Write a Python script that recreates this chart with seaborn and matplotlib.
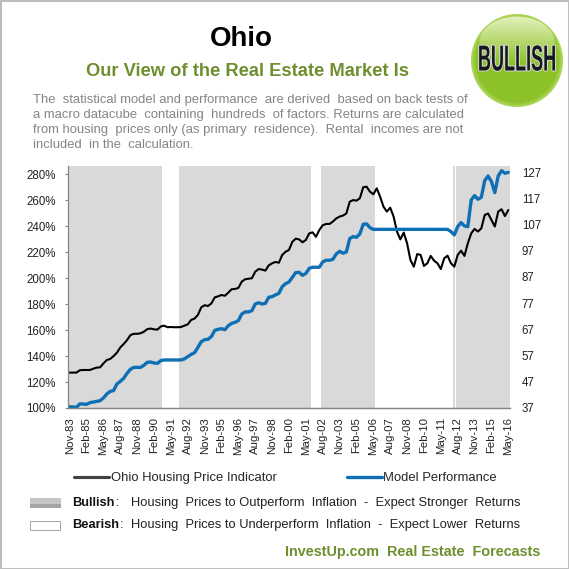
import matplotlib
matplotlib.use("Agg")
import matplotlib.pyplot as plt
import matplotlib.patheffects as pe
from matplotlib.patches import Rectangle, Circle
from matplotlib.transforms import Affine2D
import numpy as np
import pandas as pd
import seaborn as sns

quarters = pd.date_range("1983-11-01", "2016-05-01", freq="3MS").strftime("%b-%y").tolist()

# right axis, housing price indicator
housing = [
    50.5, 50.5, 50.5, 51.4, 51.5, 51.5, 51.5, 52.0, 52.4, 52.5,
    54.0, 55.3, 55.7, 56.8, 58.1, 60.1, 61.4, 62.9, 64.8, 65.3,
    65.3, 65.5, 66.1, 67.1, 67.3, 67.0, 66.9, 68.1, 68.4, 67.8,
    67.9, 67.8, 67.8, 67.9, 68.4, 68.9, 70.6, 71.1, 72.5, 75.4,
    76.2, 75.9, 76.9, 79.2, 79.6, 80.1, 79.8, 81.0, 82.3, 82.4,
    82.8, 85.2, 86.1, 86.3, 86.5, 89.0, 90.0, 89.8, 89.4, 91.4,
    92.2, 92.7, 92.4, 95.4, 96.6, 97.3, 100.4, 101.6, 101.3, 100.2,
    101.1, 103.6, 104.0, 102.3, 104.9, 106.7, 107.2, 107.2, 108.1, 109.3,
    110.0, 110.4, 111.2, 115.7, 116.3, 116.1, 117.0, 121.2, 121.4, 119.5,
    118.5, 120.8, 117.6, 113.8, 111.9, 113.4, 110.0, 104.3, 101.3, 103.9,
    99.8, 93.4, 90.9, 95.7, 95.4, 91.2, 92.2, 95.0, 93.2, 92.2,
    90.0, 94.1, 95.1, 92.2, 90.9, 95.4, 97.0, 95.0, 99.8,
    103.6, 105.3, 104.3, 105.5, 110.6, 111.2, 108.7, 106.2, 111.9, 112.8,
    110.2, 112.5,
]

# left axis, model performance
model = [
    101.0, 100.8, 100.5, 103.1, 103.1, 102.8, 104.1, 104.6, 105.1, 105.6,
    107.7, 110.8, 112.8, 113.4, 118.5, 120.5, 122.9, 126.7, 129.8, 131.3,
    131.3, 131.3, 132.9, 135.2, 135.4, 134.7, 134.4, 136.5, 137.0, 137.0,
    137.0, 137.0, 137.0, 137.0, 137.8, 139.5, 141.3, 142.6, 146.7, 151.1,
    152.6, 152.9, 155.0, 159.8, 160.6, 161.1, 160.3, 163.4, 165.2, 166.0,
    167.3, 172.4, 174.0, 174.0, 175.0, 180.1, 181.1, 180.1, 180.6, 185.3,
    185.8, 187.1, 188.3, 193.5, 195.8, 197.1, 200.7, 204.3, 204.5, 202.2,
    203.7, 207.6, 208.4, 208.4, 208.4, 212.5, 213.8, 213.8, 214.5, 218.6,
    220.7, 219.2, 220.2, 230.5, 232.0, 231.5, 234.1, 241.5, 241.8, 238.9,
    237.6, 237.6, 237.6, 237.6, 237.6, 237.6, 237.6, 237.6, 237.6, 237.6,
    237.6, 237.6, 237.6, 237.6, 237.6, 237.6, 237.6, 237.6, 237.6, 237.6,
    237.6, 237.6, 237.6, 235.9, 233.3, 239.7, 242.8, 240.2, 239.7, 260.2,
    263.6, 260.8, 262.3, 275.1, 278.7, 274.4, 265.9, 278.7, 282.8, 280.8,
    281.5,
]

# 1 = bullish quarter
regime = [1] * 28 + [0] * 5 + [1] * 39 + [0] * 3 + [1] * 16 + [0] * 23 + [1] * 17

left_ticks = [100, 120, 140, 160, 180, 200, 220, 240, 260, 280]
right_ticks = [37, 47, 57, 67, 77, 87, 97, 107, 117, 127]

body_lines = [
    "The  statistical model and performance  are derived  based on back tests of",
    "a macro datacube  containing  hundreds  of factors. Returns are calculated",
    "from housing  prices only (as primary  residence).  Rental  incomes are not",
    "included  in the  calculation.",
]

GREEN = "#6f8f2f"
GREY = "#858585"
SHADE = "#d9d9d9"
AXIS = "#868686"
BLUE = "#0f6fb5"
W = 569.0


class Squeeze(pe.AbstractPathEffect):
    # narrow the glyphs and move them onto the badge, the lettering is very condensed
    def __init__(self, src, dst, sx, stroke=None, lw=0):
        super().__init__()
        self.src, self.dst, self.sx, self.stroke, self.lw = src, dst, sx, stroke, lw

    def draw_path(self, renderer, gc, tpath, affine, rgbFace=None):
        squeeze = Affine2D().translate(-self.src, 0).scale(self.sx, 1).translate(self.dst, 0)
        if self.stroke:
            gc0 = renderer.new_gc()
            gc0.copy_properties(gc)
            gc0.set_foreground(self.stroke)
            gc0.set_linewidth(self.lw)
            renderer.draw_path(gc0, tpath, affine + squeeze, None)
            gc0.restore()
        renderer.draw_path(gc, tpath, affine + squeeze, rgbFace)


def fx(px):
    return px / W


def fy(px):
    return 1 - px / W


def put(x, y, s, **kw):
    kw.setdefault("va", "center")
    return fig.text(fx(x), fy(y), s, **kw)


def swatch(y, h, face, edge):
    fig.add_artist(Rectangle((fx(30), fy(y + h)), 30 / W, h / W, transform=fig.transFigure,
                             facecolor=face, edgecolor=edge, linewidth=0.7))


sns.set_theme(style="white")
plt.rcParams["font.family"] = ["Liberation Sans", "DejaVu Sans"]

fig = plt.figure(figsize=(5.69, 5.69), dpi=100, facecolor="white")
ax = fig.add_axes([fx(68), fy(408), 442 / W, 242 / W])
ax2 = ax.twinx()
ax.set_zorder(ax2.get_zorder() + 1)
ax.patch.set_visible(False)

df = pd.DataFrame({"quarter": quarters, "pos": range(len(quarters)), "housing": housing,
                   "model": model, "regime": regime})
df["shade"] = df["regime"] * 130

sns.barplot(data=df, x="quarter", y="shade", color=SHADE, saturation=1, width=1,
            linewidth=0, antialiased=False, ax=ax2)
ax2.patches[114].set_width(0.7)
sns.lineplot(data=df, x="pos", y="housing", color="black", linewidth=1.5, ax=ax2)
sns.lineplot(data=df, x="pos", y="model", color=BLUE, linewidth=2.4, ax=ax)

ax.set_xlim(-0.5, 130.5)
ax.set_ylim(100, 286.4)
ax2.set_ylim(37, 129.3)
ax.set_xlabel("")
ax.set_ylabel("")
ax2.set_xlabel("")
ax2.set_ylabel("")

ax.set_yticks(left_ticks)
ax.set_yticklabels([f"{t}%" for t in left_ticks], fontsize=8.3, color="#222222")
ax2.set_yticks(right_ticks)
ax2.set_yticklabels(right_ticks, fontsize=8.3, color="#222222")
ax.set_xticks(range(0, 131, 5))
ax.set_xticklabels(quarters[::5], rotation=90, fontsize=8.2, color="#222222")
ax.tick_params(axis="y", length=2.2, width=0.8, color=AXIS, pad=6.5, left=True)
ax.tick_params(axis="x", length=0, pad=6.5)
ax2.tick_params(axis="y", length=0, pad=8.5)

for a in (ax, ax2):
    for side in ("top", "right"):
        a.spines[side].set_visible(False)
    a.spines["left"].set_color(AXIS)
    a.spines["bottom"].set_color(AXIS)
    a.spines["left"].set_linewidth(0.9)
    a.spines["bottom"].set_linewidth(0.9)
ax2.spines["left"].set_visible(False)

# legend for the two lines
h_black = ax2.get_lines()[0]
h_blue = ax.get_lines()[0]
fig.legend([h_black, h_blue], ["Ohio Housing Price Indicator", "Model Performance"], ncols=2,
           loc="center left", bbox_to_anchor=(fx(74), fy(478)), frameon=False, fontsize=9.4,
           borderpad=0, borderaxespad=0, handlelength=2.65, handletextpad=0.15, columnspacing=5.4)

# headings
put(241, 39, "Ohio", ha="center", fontsize=20, fontweight="bold", color="black")
put(247, 71, "Our View of the Real Estate Market Is", ha="center", fontsize=13.2,
    fontweight="bold", color=GREEN)
for y, line in zip([100, 115, 130, 145], body_lines):
    put(33, y, line, fontsize=9.35, color=GREY)

# regime key
swatch(498, 9, "#c6c6c6", "#c6c6c6")
swatch(504, 3, "#a4a4a4", "#a4a4a4")
swatch(521, 9, "white", "#a6a6a6")
put(72.5, 503, "Bullish", fontsize=9.3, fontweight="bold", color="#111111")
put(116, 503, ":", fontsize=9.3, color="#222222")
put(131, 503, "Housing  Prices to Outperform  Inflation  -  Expect Stronger  Returns",
    fontsize=9.3, color="#222222")
put(72.5, 525, "Bearish", fontsize=9.3, fontweight="bold", color="#111111")
put(120, 525, ":", fontsize=9.3, color="#222222")
put(131, 525, "Housing  Prices to Underperform  Inflation  -  Expect Lower  Returns",
    fontsize=9.3, color="#222222")
put(285, 552, "InvestUp.com  Real Estate  Forecasts", fontsize=10.35, fontweight="bold", color=GREEN)

# badge
bx = fig.add_axes([fx(470), fy(108), 94 / W, 95 / W])
bx.set_axis_off()
yy, xx = np.mgrid[-1:1:190j, -1:1:188j]
base = np.array([0.55, 0.76, 0.16])
light = np.array([0.88, 0.94, 0.72])
img = np.ones((190, 188, 3)) * base
# lighter rim
rr = np.sqrt(xx ** 2 + yy ** 2)
rim = np.clip((rr - 0.88) / 0.12, 0, 1)[..., None]
img = img * (1 - rim) + np.array([0.72, 0.86, 0.42]) * rim
# glossy cap at the top
dome = ((xx / 0.8) ** 2 + ((yy + 0.38) / 0.55) ** 2) < 1
amt = np.clip(1 - (yy + 0.9) / 0.95, 0, 1)[..., None] * dome[..., None]
img = img * (1 - amt) + light * amt
im = bx.imshow(img, extent=(-1, 1, -1, 1), aspect="auto", origin="upper")
im.set_clip_path(Circle((0, 0), 0.98, transform=bx.transData))
bx.set_xlim(-1, 1)
bx.set_ylim(-1, 1)

# anchored right so the unsqueezed text box stays inside the picture
put(566, 61, "BULLISH", ha="right", fontsize=26, fontweight="bold", color="#15181c",
    path_effects=[Squeeze(488, 517, 0.5, stroke="#d8d8d8", lw=1.4)], zorder=10)

# picture frame
fig.add_artist(Rectangle((0, 0), 1, 1, transform=fig.transFigure, fill=False,
                         edgecolor="#bdbdbd", linewidth=2.2))

fig.savefig("out.png", dpi=100)
